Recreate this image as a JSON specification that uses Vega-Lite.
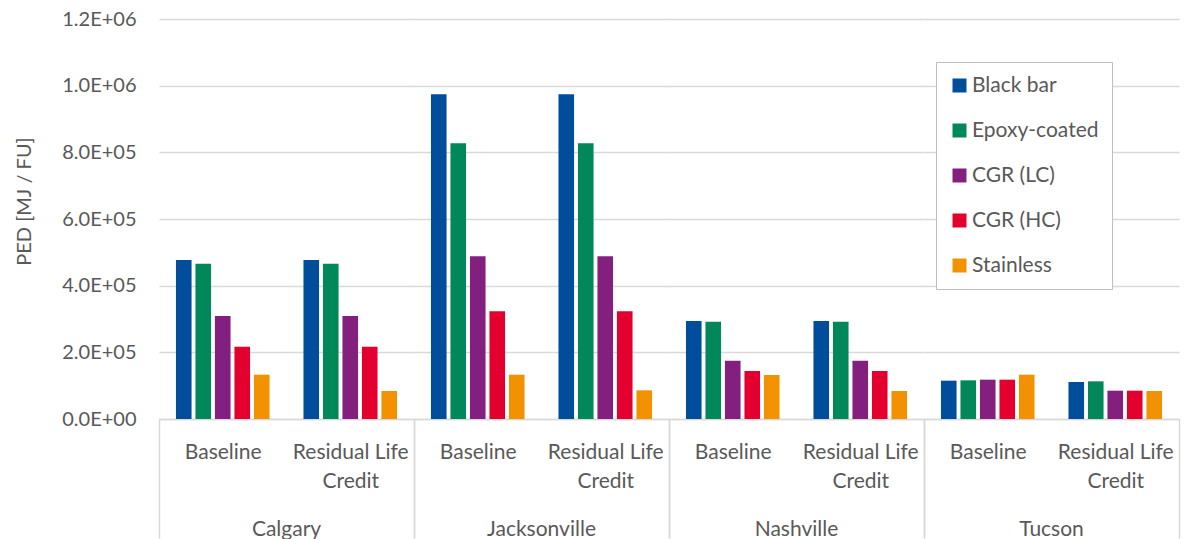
{
  "$schema": "https://vega.github.io/schema/vega-lite/v6.json",
  "padding": {"left": 14, "top": 9, "right": 8, "bottom": 0},
  "data": {"values": [
    {"city": "Calgary", "scenario": "Baseline", "material": "Black bar", "ped": 477000},
    {"city": "Calgary", "scenario": "Baseline", "material": "Epoxy-coated", "ped": 466000},
    {"city": "Calgary", "scenario": "Baseline", "material": "CGR (LC)", "ped": 309000},
    {"city": "Calgary", "scenario": "Baseline", "material": "CGR (HC)", "ped": 217000},
    {"city": "Calgary", "scenario": "Baseline", "material": "Stainless", "ped": 133000},
    {"city": "Calgary", "scenario": "Residual Life Credit", "material": "Black bar", "ped": 477000},
    {"city": "Calgary", "scenario": "Residual Life Credit", "material": "Epoxy-coated", "ped": 466000},
    {"city": "Calgary", "scenario": "Residual Life Credit", "material": "CGR (LC)", "ped": 309000},
    {"city": "Calgary", "scenario": "Residual Life Credit", "material": "CGR (HC)", "ped": 217000},
    {"city": "Calgary", "scenario": "Residual Life Credit", "material": "Stainless", "ped": 84000},
    {"city": "Jacksonville", "scenario": "Baseline", "material": "Black bar", "ped": 974000},
    {"city": "Jacksonville", "scenario": "Baseline", "material": "Epoxy-coated", "ped": 827000},
    {"city": "Jacksonville", "scenario": "Baseline", "material": "CGR (LC)", "ped": 488000},
    {"city": "Jacksonville", "scenario": "Baseline", "material": "CGR (HC)", "ped": 323000},
    {"city": "Jacksonville", "scenario": "Baseline", "material": "Stainless", "ped": 133000},
    {"city": "Jacksonville", "scenario": "Residual Life Credit", "material": "Black bar", "ped": 974000},
    {"city": "Jacksonville", "scenario": "Residual Life Credit", "material": "Epoxy-coated", "ped": 827000},
    {"city": "Jacksonville", "scenario": "Residual Life Credit", "material": "CGR (LC)", "ped": 488000},
    {"city": "Jacksonville", "scenario": "Residual Life Credit", "material": "CGR (HC)", "ped": 323000},
    {"city": "Jacksonville", "scenario": "Residual Life Credit", "material": "Stainless", "ped": 86000},
    {"city": "Nashville", "scenario": "Baseline", "material": "Black bar", "ped": 294000},
    {"city": "Nashville", "scenario": "Baseline", "material": "Epoxy-coated", "ped": 292000},
    {"city": "Nashville", "scenario": "Baseline", "material": "CGR (LC)", "ped": 175000},
    {"city": "Nashville", "scenario": "Baseline", "material": "CGR (HC)", "ped": 144000},
    {"city": "Nashville", "scenario": "Baseline", "material": "Stainless", "ped": 132000},
    {"city": "Nashville", "scenario": "Residual Life Credit", "material": "Black bar", "ped": 294000},
    {"city": "Nashville", "scenario": "Residual Life Credit", "material": "Epoxy-coated", "ped": 292000},
    {"city": "Nashville", "scenario": "Residual Life Credit", "material": "CGR (LC)", "ped": 175000},
    {"city": "Nashville", "scenario": "Residual Life Credit", "material": "CGR (HC)", "ped": 144000},
    {"city": "Nashville", "scenario": "Residual Life Credit", "material": "Stainless", "ped": 84000},
    {"city": "Tucson", "scenario": "Baseline", "material": "Black bar", "ped": 115000},
    {"city": "Tucson", "scenario": "Baseline", "material": "Epoxy-coated", "ped": 116000},
    {"city": "Tucson", "scenario": "Baseline", "material": "CGR (LC)", "ped": 118000},
    {"city": "Tucson", "scenario": "Baseline", "material": "CGR (HC)", "ped": 118000},
    {"city": "Tucson", "scenario": "Baseline", "material": "Stainless", "ped": 133000},
    {"city": "Tucson", "scenario": "Residual Life Credit", "material": "Black bar", "ped": 111000},
    {"city": "Tucson", "scenario": "Residual Life Credit", "material": "Epoxy-coated", "ped": 113000},
    {"city": "Tucson", "scenario": "Residual Life Credit", "material": "CGR (LC)", "ped": 85000},
    {"city": "Tucson", "scenario": "Residual Life Credit", "material": "CGR (HC)", "ped": 85000},
    {"city": "Tucson", "scenario": "Residual Life Credit", "material": "Stainless", "ped": 84000}
  ]},
  "facet": {
    "column": {
      "field": "city", "type": "nominal",
      "sort": ["Calgary", "Jacksonville", "Nashville", "Tucson"],
      "header": {"title": null, "labelOrient": "bottom", "labelFontSize": 21, "labelFont": "Lato", "labelColor": "#595959", "labelPadding": -20, "labelBaseline": "top"}
    }
  },
  "spacing": 0,
  "spec": {
    "width": 255,
    "height": 400,
    "mark": {"type": "bar"},
    "encoding": {
      "x": {
        "field": "scenario", "type": "nominal",
        "sort": ["Baseline", "Residual Life Credit"],
        "scale": {"paddingInner": 0, "paddingOuter": 0},
        "axis": {
          "title": null, "labelAngle": 0, "domainColor": "#d9d9d9", "domainWidth": 1.5,
          "tickBand": "extent", "tickSize": 119, "tickWidth": 1.5,
          "tickColor": {"condition": {"test": "datum.value !== 'Baseline'", "value": "#d9d9d9"}, "value": "transparent"},
          "labelPadding": -97, "labelBaseline": "top", "labelLineHeight": 29,
          "labelExpr": "datum.value === 'Residual Life Credit' ? ['Residual Life', 'Credit'] : datum.value",
          "labelFontSize": 21, "labelFont": "Lato", "labelColor": "#595959", "grid": false
        }
      },
      "xOffset": {
        "field": "material", "type": "nominal",
        "sort": ["Black bar", "Epoxy-coated", "CGR (LC)", "CGR (HC)", "Stainless"],
        "scale": {"paddingInner": 0.2, "paddingOuter": 0.87}
      },
      "y": {
        "field": "ped", "type": "quantitative",
        "scale": {"domain": [0, 1200000], "nice": false},
        "axis": {
          "title": "PED [MJ / FU]", "values": [0, 200000, 400000, 600000, 800000, 1000000, 1200000],
          "labelExpr": "datum.value >= 1000000 ? format(datum.value/1000000, '.1f') + 'E+06' : (datum.value > 0 ? format(datum.value/100000, '.1f') + 'E+05' : '0.0E+00')",
          "domain": false, "ticks": false, "labelPadding": 23,
          "labelFontSize": 20, "labelFont": "Lato", "labelColor": "#595959",
          "titleFontSize": 20, "titleFont": "Lato", "titleFontWeight": "normal", "titleColor": "#595959",
          "titleX": -125, "titleY": 182,
          "gridColor": "#d9d9d9", "gridWidth": 1.5
        }
      },
      "color": {
        "field": "material", "type": "nominal",
        "sort": ["Black bar", "Epoxy-coated", "CGR (LC)", "CGR (HC)", "Stainless"],
        "scale": {
          "domain": ["Black bar", "Epoxy-coated", "CGR (LC)", "CGR (HC)", "Stainless"],
          "range": ["#004d9b", "#00875a", "#83207f", "#e4002e", "#f39200"]
        },
        "legend": {
          "title": null, "orient": "none", "legendX": 777, "legendY": 43,
          "strokeColor": "#bfbfbf", "fillColor": "white", "padding": 13,
          "symbolType": "square", "symbolSize": 196, "symbolStrokeWidth": 0, "symbolOpacity": 1,
          "labelFontSize": 21, "labelFont": "Lato", "labelColor": "#595959",
          "rowPadding": 23, "labelOffset": 2
        }
      }
    }
  },
  "config": {
    "font": "Lato",
    "view": {"stroke": null},
    "bar": {"opacity": 1}
  }
}
